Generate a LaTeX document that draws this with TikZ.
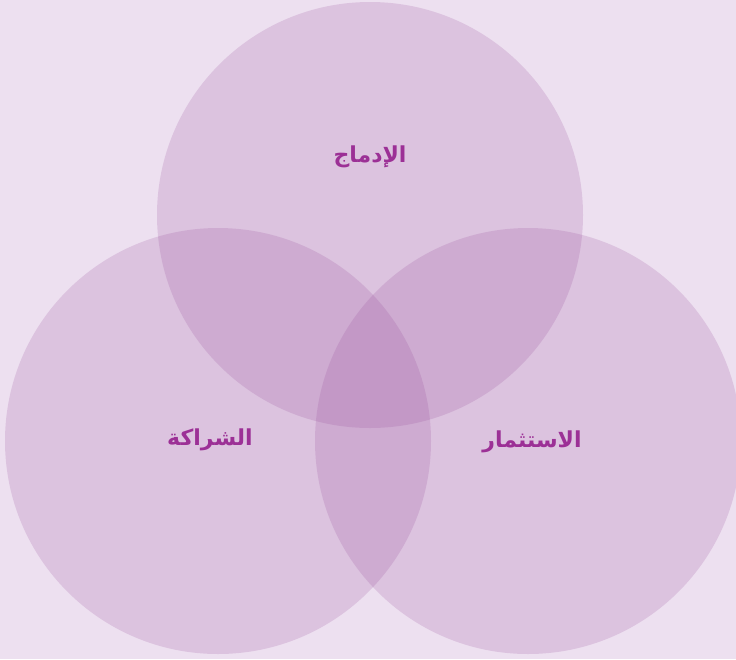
\documentclass[tikz,border=0pt]{standalone}
\usepackage{fontspec}
\newfontfamily\arabicfont[Script=Arabic]{DejaVu Sans}
\definecolor{bgcol}{RGB}{237,224,240}
\definecolor{ringcol}{RGB}{152,79,155}
\definecolor{txtcol}{RGB}{156,48,150}
\tikzset{
  ring/.style={fill=ringcol,fill opacity=0.2},
  lbl/.style={text=txtcol,font=\arabicfont\bfseries\fontsize{22}{26}\selectfont}
}
\begin{document}
\begin{tikzpicture}[x=1pt,y=-1pt]
  \useasboundingbox (0,0) rectangle (736,659);
  \fill[bgcol] (0,0) rectangle (736,659);
  \begin{scope}
    \clip (0,0) rectangle (736,659);
    \fill[ring] (370,215) circle (213); \fill[ring] (218,441) circle (213);
    \fill[ring] (528,441) circle (213);
  \end{scope}
  \node[lbl] (idmaj) at (370,157) {الإدماج};
  \node[lbl] (shiraka) at (210,440) {الشراكة};
  \node[lbl] (istithmar) at (532,442) {الاستثمار};
\end{tikzpicture}
\end{document}
